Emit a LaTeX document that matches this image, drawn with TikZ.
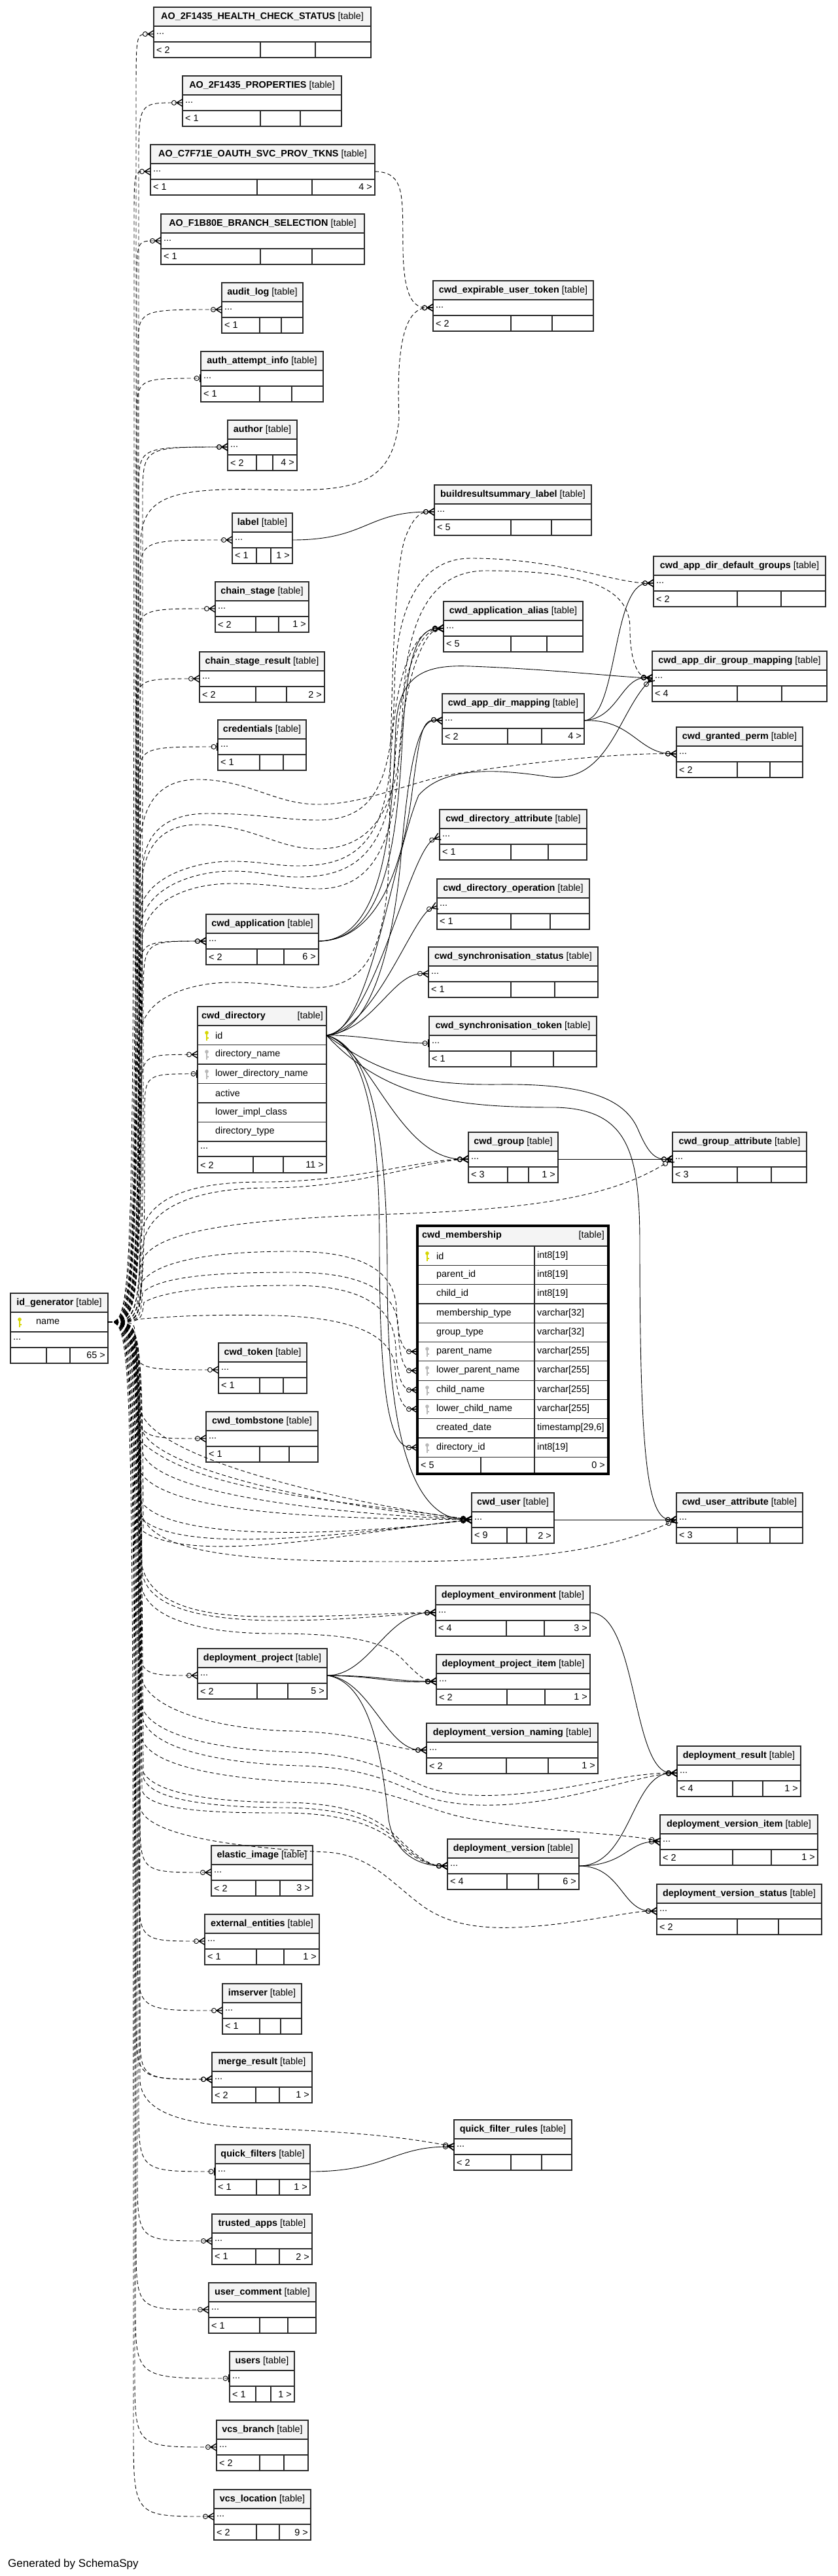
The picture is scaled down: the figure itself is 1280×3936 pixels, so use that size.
\documentclass[tikz,border=0pt]{standalone}
\usepackage{fontspec}
\setmainfont{Liberation Sans}
\usetikzlibrary{arrows.meta}

\definecolor{hdrfill}{HTML}{F4F4F4}
\definecolor{pkyellow}{HTML}{D6D600}
\definecolor{fkgray}{HTML}{B8B8B8}
\definecolor{edge}{HTML}{2B2B2B}

\newcommand{\tabfont}{\fontsize{14.4}{17}\selectfont}

% crow's foot end
\pgfdeclarearrow{
  name = Crow,
  setup code = {
    \pgfarrowssettipend{0pt}
    \pgfarrowssetlineend{-9pt}
    \pgfarrowssetbackend{-9pt}
    \pgfarrowshullpoint{0pt}{5.5pt}
    \pgfarrowshullpoint{0pt}{-5.5pt}
    \pgfarrowshullpoint{-9pt}{0pt}
  },
  drawing code = {
    \pgfsetdash{}{0pt}
    \pgfsetlinewidth{1.4pt}
    \pgfpathmoveto{\pgfqpoint{-9pt}{0pt}}
    \pgfpathlineto{\pgfqpoint{0pt}{5.5pt}}
    \pgfpathmoveto{\pgfqpoint{-9pt}{0pt}}
    \pgfpathlineto{\pgfqpoint{0pt}{0pt}}
    \pgfpathmoveto{\pgfqpoint{-9pt}{0pt}}
    \pgfpathlineto{\pgfqpoint{0pt}{-5.5pt}}
    \pgfusepathqstroke
  }
}

\tikzset{
  tline/.style={draw=edge, line width=1.2pt},
  rowbox/.style={draw=edge, line width=1.2pt, minimum height=24pt, inner sep=0pt, outer sep=0pt, anchor=north west},
  cell/.style={draw=edge, line width=1.2pt, inner sep=0pt, outer sep=0pt, anchor=north west},
  txt/.style={font=\tabfont, inner sep=0pt},
  fk/.style={line width=0.9pt},
  imp/.style={line width=0.9pt, dash pattern=on 6pt off 4pt},
  crowtip/.style={-{Circle[open,length=8pt,width=8pt] Crow}},
  bartip/.style={-{Circle[open,length=8pt,width=8pt] Bar[width=12pt,line width=2.4pt]}},
}

% id, x1, y1, x2, title, divider1, divider2, left count, right count
\newcommand{\tbl}[9]{%
  \draw[tline, fill=hdrfill] (#2,#3) rectangle (#4,#3+29);
  \node[txt] at ({(#2+#4)/2},#3+15) {\textbf{#5} [table]};
  \node[rowbox, minimum width={(#4-#2)*1pt}] (#1) at (#2,#3+29) {};
  \node[txt, anchor=west] at (#2+4,#3+41) {...};
  \draw[tline] (#2,#3+53) rectangle (#4,#3+77) (#6,#3+53) -- (#6,#3+77) (#7,#3+53) -- (#7,#3+77);
  \node[txt, anchor=west] at (#2+4,#3+65) {#8};
  \node[txt, anchor=east] at (#4-4,#3+65) {#9};
}

\newcommand{\keyico}[3]{%
  \fill[#3] (#1,#2-4) circle (2.8pt);
  \draw[#3, line width=1.8pt] (#1,#2-2) -- (#1,#2+8);
  \draw[#3, line width=1.2pt] (#1,#2+4) -- (#1+2.6,#2+4);
}

% implied link from id_generator.name: tip, target, trunk x, turn y
\newcommand{\idlink}[4]{%
  \draw[imp,#1] (ig.east) .. controls (#3,2020) .. (#3,#4) .. controls (#3,0 |- #2) .. (#2);
}

\begin{document}
\begin{tikzpicture}[x=1pt,y=-1pt]
\fill[white] (0,0) rectangle (1280,3936);
\useasboundingbox (0,0) rectangle (1280,3936);

% ---- tables
\tbl{ao1}{235}{11}{567}{AO\_2F1435\_HEALTH\_CHECK\_STATUS}{398}{482}{< 2}{}
\tbl{ao2}{279}{116}{522}{AO\_2F1435\_PROPERTIES}{398}{459}{< 1}{}
\tbl{ao3}{230}{221}{573}{AO\_C7F71E\_OAUTH\_SVC\_PROV\_TKNS}{393}{477}{< 1}{4 >}
\tbl{ao4}{246}{327}{557}{AO\_F1B80E\_BRANCH\_SELECTION}{398}{477}{< 1}{}
\tbl{auditlog}{339}{432}{463}{audit\_log}{397}{430}{< 1}{}
\tbl{authinfo}{307}{537}{494}{auth\_attempt\_info}{397}{446}{< 1}{}
\tbl{author}{348}{642}{454}{author}{392}{417}{< 2}{4 >}
\tbl{expuser}{662}{429}{907}{cwd\_expirable\_user\_token}{781}{844}{< 2}{}
\tbl{brlabel}{664}{741}{904}{buildresultsummary\_label}{781}{843}{< 5}{}
\tbl{lbl}{355}{784}{447}{label}{392}{414}{< 1}{1 >}
\tbl{chainstage}{329}{889}{472}{chain\_stage}{391}{426}{< 2}{1 >}
\tbl{defgroups}{999}{850}{1262}{cwd\_app\_dir\_default\_groups}{1127}{1194}{< 2}{}
\tbl{alias}{678}{919}{891}{cwd\_application\_alias}{781}{836}{< 5}{}
\tbl{chainres}{305}{996}{496}{chain\_stage\_result}{391}{438}{< 2}{2 >}
\tbl{grpmap}{997}{995}{1264}{cwd\_app\_dir\_group\_mapping}{1127}{1195}{< 4}{}
\tbl{dirmap}{676}{1060}{893}{cwd\_app\_dir\_mapping}{776}{828}{< 2}{4 >}
\tbl{credentials}{333}{1100}{468}{credentials}{397}{433}{< 1}{}
\tbl{perm}{1034}{1111}{1227}{cwd\_granted\_perm}{1127}{1177}{< 2}{}
\tbl{dirattr}{672}{1237}{897}{cwd\_directory\_attribute}{781}{838}{< 1}{}
\tbl{dirop}{668}{1343}{901}{cwd\_directory\_operation}{781}{841}{< 1}{}
\tbl{app}{315}{1397}{487}{cwd\_application}{393}{434}{< 2}{6 >}
\tbl{syncstat}{655}{1447}{914}{cwd\_synchronisation\_status}{781}{848}{< 1}{}
\tbl{synctok}{656}{1553}{912}{cwd\_synchronisation\_token}{781}{846}{< 1}{}
\tbl{group}{716}{1730}{853}{cwd\_group}{776}{808}{< 3}{1 >}
\tbl{grpattr}{1028}{1730}{1233}{cwd\_group\_attribute}{1127}{1179}{< 3}{}
\tbl{token}{334}{2052}{469}{cwd\_token}{397}{433}{< 1}{}
\tbl{tomb}{315}{2157}{486}{cwd\_tombstone}{397}{442}{< 1}{}
\tbl{user}{721}{2281}{847}{cwd\_user}{775}{805}{< 9}{2 >}
\tbl{usrattr}{1034}{2281}{1227}{cwd\_user\_attribute}{1127}{1177}{< 3}{}
\tbl{depenv}{666}{2423}{902}{deployment\_environment}{774}{832}{< 4}{3 >}
\tbl{depproj}{302}{2519}{500}{deployment\_project}{393}{440}{< 2}{5 >}
\tbl{depitem}{667}{2528}{902}{deployment\_project\_item}{775}{833}{< 2}{1 >}
\tbl{depnaming}{652}{2633}{914}{deployment\_version\_naming}{774}{838}{< 2}{1 >}
\tbl{depres}{1035}{2668}{1224}{deployment\_result}{1120}{1166}{< 4}{1 >}
\tbl{depvitem}{1009}{2773}{1250}{deployment\_version\_item}{1120}{1179}{< 2}{1 >}
\tbl{depver}{684}{2810}{885}{deployment\_version}{775}{823}{< 4}{6 >}
\tbl{elastic}{323}{2820}{478}{elastic\_image}{391}{428}{< 2}{3 >}
\tbl{depstat}{1004}{2879}{1256}{deployment\_version\_status}{1127}{1190}{< 2}{}
\tbl{extent}{313}{2925}{488}{external\_entities}{392}{434}{< 1}{1 >}
\tbl{imserver}{340}{3031}{461}{imserver}{397}{429}{< 1}{}
\tbl{merge}{324}{3136}{477}{merge\_result}{391}{427}{< 2}{1 >}
\tbl{qfrules}{694}{3239}{874}{quick\_filter\_rules}{781}{828}{< 2}{}
\tbl{qfilters}{329}{3277}{474}{quick\_filters}{392}{427}{< 1}{1 >}
\tbl{trusted}{324}{3383}{477}{trusted\_apps}{391}{427}{< 1}{2 >}
\tbl{ucomment}{319}{3488}{483}{user\_comment}{397}{440}{< 1}{}
\tbl{users}{351}{3593}{450}{users}{391}{414}{< 1}{1 >}
\tbl{vcsbranch}{331}{3698}{471}{vcs\_branch}{397}{434}{< 2}{}
\tbl{vcsloc}{327}{3804}{475}{vcs\_location}{392}{427}{< 2}{9 >}

% cwd_directory (expanded)
\draw[tline, fill=hdrfill] (302,1538) rectangle (499,1567);
\node[txt, anchor=west] at (308,1553) {\textbf{cwd\_directory}};
\node[txt, anchor=east] at (494,1553) {[table]};
\node[cell, minimum width=197pt, minimum height=29.5pt] (dir-id) at (302,1567) {};
\node[cell, minimum width=197pt, minimum height=29.5pt] (dir-name) at (302,1596.5) {};
\node[cell, minimum width=197pt, minimum height=29.5pt] (dir-lname) at (302,1626) {};
\node[cell, minimum width=197pt, minimum height=29.5pt] (dir-active) at (302,1655.5) {};
\node[cell, minimum width=197pt, minimum height=29.5pt] (dir-impl) at (302,1685) {};
\node[cell, minimum width=197pt, minimum height=29.5pt] (dir-type) at (302,1714.5) {};
\node[cell, minimum width=197pt, minimum height=23pt] (dir-more) at (302,1744) {};
\draw[tline] (302,1767) rectangle (499,1792) (387,1767) -- (387,1792) (433,1767) -- (433,1792);
\keyico{316}{1582}{pkyellow}
\keyico{316}{1611}{fkgray}
\keyico{316}{1641}{fkgray}
\node[txt, anchor=west] at (329,1582) {id};
\node[txt, anchor=west] at (329,1611) {directory\_name};
\node[txt, anchor=west] at (329,1641) {lower\_directory\_name};
\node[txt, anchor=west] at (329,1670) {active};
\node[txt, anchor=west] at (329,1700) {lower\_impl\_class};
\node[txt, anchor=west] at (329,1729) {directory\_type};
\node[txt, anchor=west] at (306,1755) {...};
\node[txt, anchor=west] at (306,1780) {< 2};
\node[txt, anchor=east] at (495,1780) {11 >};

% id_generator (expanded)
\draw[tline, fill=hdrfill] (16,1976) rectangle (165,2005);
\node[txt] at (90.5,1991) {\textbf{id\_generator} [table]};
\node[cell, minimum width=149pt, minimum height=30pt] (ig) at (16,2005) {};
\node[cell, minimum width=149pt, minimum height=24pt] (ig-more) at (16,2035) {};
\draw[tline] (16,2059) rectangle (165,2083) (71,2059) -- (71,2083) (107,2059) -- (107,2083);
\keyico{30}{2020}{pkyellow}
\node[txt, anchor=west] at (55,2020) {name};
\node[txt, anchor=west] at (20,2047) {...};
\node[txt, anchor=east] at (161,2071) {65 >};

% cwd_membership (expanded)
\fill[hdrfill] (638,1873) rectangle (930,1904);
\node[cell, minimum width=292pt, minimum height=29.3pt] (mem-id) at (638,1904) {};
\node[cell, minimum width=292pt, minimum height=29.3pt] (mem-pid) at (638,1933.3) {};
\node[cell, minimum width=292pt, minimum height=29.3pt] (mem-cid) at (638,1962.6) {};
\node[cell, minimum width=292pt, minimum height=29.3pt] (mem-mtype) at (638,1991.9) {};
\node[cell, minimum width=292pt, minimum height=29.3pt] (mem-gtype) at (638,2021.2) {};
\node[cell, minimum width=292pt, minimum height=29.3pt] (mem-pname) at (638,2050.5) {};
\node[cell, minimum width=292pt, minimum height=29.3pt] (mem-lpname) at (638,2079.8) {};
\node[cell, minimum width=292pt, minimum height=29.3pt] (mem-cname) at (638,2109.1) {};
\node[cell, minimum width=292pt, minimum height=29.3pt] (mem-lcname) at (638,2138.4) {};
\node[cell, minimum width=292pt, minimum height=29.3pt] (mem-cdate) at (638,2167.7) {};
\node[cell, minimum width=292pt, minimum height=29.3pt] (mem-dirid) at (638,2197) {};
\draw[tline] (817,1904) -- (817,2226.3) (735,2226.3) -- (735,2252) (817,2226.3) -- (817,2252);
\draw[draw=black, line width=3.2pt] (638,1873) rectangle (930,2252);
\node[txt, anchor=west] at (645,1888) {\textbf{cwd\_membership}};
\node[txt, anchor=east] at (924,1888) {[table]};
\keyico{653}{1919}{pkyellow}
\keyico{653}{2065}{fkgray}
\keyico{653}{2094}{fkgray}
\keyico{653}{2124}{fkgray}
\keyico{653}{2153}{fkgray}
\keyico{653}{2212}{fkgray}
\node[txt, anchor=west] at (667,1919) {id};
\node[txt, anchor=west] at (667,1948) {parent\_id};
\node[txt, anchor=west] at (667,1977) {child\_id};
\node[txt, anchor=west] at (667,2007) {membership\_type};
\node[txt, anchor=west] at (667,2036) {group\_type};
\node[txt, anchor=west] at (667,2065) {parent\_name};
\node[txt, anchor=west] at (667,2094) {lower\_parent\_name};
\node[txt, anchor=west] at (667,2124) {child\_name};
\node[txt, anchor=west] at (667,2153) {lower\_child\_name};
\node[txt, anchor=west] at (667,2182) {created\_date};
\node[txt, anchor=west] at (667,2212) {directory\_id};
\node[txt, anchor=west] at (821,1919) {int8[19]};
\node[txt, anchor=west] at (821,1948) {int8[19]};
\node[txt, anchor=west] at (821,1977) {int8[19]};
\node[txt, anchor=west] at (821,2007) {varchar[32]};
\node[txt, anchor=west] at (821,2036) {varchar[32]};
\node[txt, anchor=west] at (821,2065) {varchar[255]};
\node[txt, anchor=west] at (821,2094) {varchar[255]};
\node[txt, anchor=west] at (821,2124) {varchar[255]};
\node[txt, anchor=west] at (821,2153) {varchar[255]};
\node[txt, anchor=west] at (821,2182) {timestamp[29,6]};
\node[txt, anchor=west] at (821,2212) {int8[19]};
\node[txt, anchor=west] at (643,2239) {< 5};
\node[txt, anchor=east] at (925,2239) {0 >};

% ---- real foreign keys
\draw[fk,crowtip] (lbl.east) .. controls (560,825) and (560,782) .. (brlabel.west);
\draw[fk,crowtip] (app.east) .. controls (585,1437) and (605,1300) .. (614,1150) .. controls (620,1030) and (630,960) .. (alias.west);
\draw[fk,crowtip] (app.east) .. controls (575,1437) and (615,1330) .. (630,1210) .. controls (642,1120) and (645,1098) .. (dirmap.west);
\draw[fk,crowtip] (app.east) .. controls (590,1437) and (600,1250) .. (605,1110) .. controls (610,1030) and (650,1015) .. (720,1018) .. controls (850,1023) and (940,1034) .. (grpmap.west);
\draw[fk,crowtip] (dirmap.east) .. controls (945,1098) and (935,891) .. (defgroups.west);
\draw[fk,crowtip] (dirmap.east) .. controls (945,1098) and (950,1034) .. (grpmap.west);
\draw[fk,crowtip] (dirmap.east) .. controls (965,1098) and (975,1150) .. (perm.west);
\draw[fk,crowtip] (dir-id.east) .. controls (565,1582) and (600,1450) .. (612,1320) .. controls (625,1160) and (640,1098) .. (dirmap.west);
\draw[fk,crowtip] (dir-id.east) .. controls (565,1582) and (600,1310) .. (640,1215) .. controls (680,1170) and (760,1175) .. (840,1187) .. controls (930,1197) and (945,1090) .. (grpmap.west);
\draw[fk,crowtip] (dir-id.east) .. controls (570,1575) and (625,1300) .. (dirattr.west);
\draw[fk,crowtip] (dir-id.east) .. controls (575,1570) and (630,1400) .. (dirop.west);
\draw[fk,crowtip] (dir-id.east) .. controls (570,1575) and (600,1486) .. (syncstat.west);
\draw[fk,bartip] (dir-id.east) .. controls (560,1582) and (600,1594) .. (synctok.west);
\draw[fk,crowtip] (dir-id.east) .. controls (565,1600) and (610,1772) .. (group.west);
\draw[fk,crowtip] (dir-id.east) .. controls (580,1640) and (640,1658) .. (760,1657) .. controls (900,1655) and (955,1680) .. (975,1725) .. controls (990,1760) and (1000,1772) .. (grpattr.west);
\draw[fk,crowtip] (dir-id.east) .. controls (590,1680) and (700,1692) .. (850,1692) .. controls (960,1695) and (978,1760) .. (978,1900) .. controls (978,2230) and (990,2322) .. (usrattr.west);
\draw[fk,crowtip] (dir-id.east) .. controls (560,1600) and (580,1720) .. (580,1900) .. controls (580,2160) and (600,2212) .. (mem-dirid.west);
\draw[fk,crowtip] (dir-id.east) .. controls (570,1600) and (592,1740) .. (592,1950) .. controls (592,2220) and (640,2322) .. (user.west);
\draw[fk,crowtip] (group.east) -- (grpattr.west);
\draw[fk,crowtip] (user.east) -- (usrattr.west);
\draw[fk,crowtip] (depproj.east) .. controls (565,2560) and (590,2464) .. (depenv.west);
\draw[fk,crowtip] (depproj.east) .. controls (580,2560) and (600,2569) .. (depitem.west);
\draw[fk,crowtip] (depproj.east) .. controls (590,2562) and (590,2572) .. (depitem.west);
\draw[fk,crowtip] (depproj.east) .. controls (565,2565) and (590,2674) .. (depnaming.west);
\draw[fk,crowtip] (depproj.east) .. controls (570,2570) and (585,2700) .. (594,2780) .. controls (604,2840) and (650,2851) .. (depver.west);
\draw[fk,crowtip] (depenv.east) .. controls (975,2464) and (965,2709) .. (depres.west);
\draw[fk,crowtip] (depver.east) .. controls (965,2851) and (965,2709) .. (depres.west);
\draw[fk,crowtip] (depver.east) .. controls (955,2851) and (960,2814) .. (depvitem.west);
\draw[fk,crowtip] (depver.east) .. controls (950,2851) and (950,2920) .. (depstat.west);
\draw[fk,crowtip] (qfilters.east) .. controls (590,3318) and (600,3280) .. (qfrules.west);

% ---- implied keys
\draw[imp,crowtip] (ao3.east) .. controls (620,263) and (615,300) .. (616,380) .. controls (617,450) and (630,471) .. (expuser.west);
\idlink{crowtip}{ao1.west}{208}{150}
\idlink{crowtip}{ao2.west}{212}{250}
\idlink{crowtip}{ao3.west}{205}{340}
\idlink{crowtip}{ao4.west}{209}{440}
\idlink{crowtip}{auditlog.west}{211}{535}
\idlink{bartip}{authinfo.west}{209}{640}
\idlink{crowtip}{author.west}{212}{750}
\idlink{crowtip}{author.west}{218}{765}
\idlink{crowtip}{lbl.west}{214}{890}
\idlink{crowtip}{chainstage.west}{210}{995}
\idlink{crowtip}{chainres.west}{208}{1100}
\idlink{bartip}{credentials.west}{212}{1205}
\idlink{crowtip}{app.west}{213}{1505}
\idlink{crowtip}{app.west}{219}{1530}
\idlink{crowtip}{dir-name.west}{216}{1680}
\idlink{bartip}{dir-lname.west}{221}{1705}
\idlink{crowtip}{token.west}{206}{2040}
\idlink{crowtip}{tomb.west}{209}{2110}
\idlink{crowtip}{depproj.west}{212}{2480}
\idlink{crowtip}{elastic.west}{214}{2770}
\idlink{crowtip}{extent.west}{212}{2870}
\idlink{crowtip}{imserver.west}{210}{2975}
\idlink{crowtip}{merge.west}{208}{3080}
\idlink{crowtip}{merge.west}{214}{3095}
\idlink{bartip}{qfilters.west}{212}{3215}
\idlink{crowtip}{trusted.west}{210}{3320}
\idlink{crowtip}{ucomment.west}{208}{3420}
\idlink{bartip}{users.west}{207}{3520}
\idlink{crowtip}{vcsbranch.west}{206}{3620}
\idlink{crowtip}{vcsloc.west}{204}{3710}

% long implied routes through the middle corridor
\draw[imp,crowtip] (ig.east) .. controls (214,2020) .. (215,830) .. controls (216,760) and (260,745) .. (400,748) .. controls (540,752) and (600,745) .. (610,640) .. controls (606,540) and (615,471) .. (expuser.west);
\draw[imp,crowtip] (ig.east) .. controls (212,2020) .. (214,1300) .. controls (215,1220) and (250,1191) .. (302,1191) .. controls (380,1191) and (420,1229) .. (486,1229) .. controls (550,1229) and (600,1205) .. (680,1185) .. controls (800,1165) and (950,1150) .. (perm.west);
\draw[imp,crowtip] (ig.east) .. controls (216,2020) .. (218,1330) .. controls (220,1260) and (270,1243) .. (317,1243) .. controls (400,1243) and (430,1253) .. (486,1253) .. controls (570,1253) and (600,1200) .. (603,1050) .. controls (605,930) and (640,853) .. (720,853) .. controls (850,853) and (940,891) .. (defgroups.west);
\draw[imp,crowtip] (ig.east) .. controls (214,2020) .. (216,1360) .. controls (218,1280) and (260,1260) .. (302,1260) .. controls (390,1260) and (420,1297) .. (486,1297) .. controls (560,1297) and (610,1250) .. (615,1100) .. controls (618,960) and (650,872) .. (743,872) .. controls (900,872) and (963,900) .. (963,960) .. controls (963,1010) and (975,1034) .. (grpmap.west);
\draw[imp,crowtip] (ig.east) .. controls (210,2020) .. (213,1400) .. controls (215,1340) and (300,1316) .. (353,1316) .. controls (400,1316) and (420,1323) .. (455,1323) .. controls (530,1323) and (590,1300) .. (598,1150) .. controls (606,1010) and (640,960) .. (alias.west);
\draw[imp,crowtip] (ig.east) .. controls (212,2020) .. (215,1420) .. controls (217,1355) and (300,1331) .. (353,1331) .. controls (400,1331) and (420,1340) .. (455,1340) .. controls (535,1340) and (595,1310) .. (604,1160) .. controls (612,1020) and (645,962) .. (alias.west);
\draw[imp,crowtip] (ig.east) .. controls (215,2020) .. (217,1440) .. controls (219,1370) and (300,1350) .. (353,1350) .. controls (420,1350) and (440,1358) .. (486,1358) .. controls (550,1358) and (600,1320) .. (609,1170) .. controls (617,1030) and (650,964) .. (alias.west);
\draw[imp,crowtip] (ig.east) .. controls (212,2020) .. (215,1580) .. controls (218,1520) and (300,1501) .. (353,1501) .. controls (410,1501) and (440,1509) .. (480,1509) .. controls (560,1509) and (592,1450) .. (595,1300) .. controls (598,1000) and (605,860) .. (620,820) .. controls (630,795) and (640,782) .. (brlabel.west);
% cwd_group, cwd_group_attribute, cwd_membership
\draw[imp,crowtip] (ig.east) .. controls (212,2020) .. (214,1900) .. controls (216,1830) and (290,1806) .. (400,1806) .. controls (540,1806) and (640,1772) .. (group.west);
\draw[imp,crowtip] (ig.east) .. controls (216,2020) .. (218,1910) .. controls (220,1845) and (300,1815) .. (410,1815) .. controls (545,1815) and (645,1775) .. (group.west);
\draw[imp,crowtip] (ig.east) .. controls (214,2020) .. (216,1930) .. controls (230,1875) and (400,1862) .. (600,1855) .. controls (850,1847) and (950,1820) .. (grpattr.west);
\draw[imp,crowtip] (ig.east) .. controls (212,2020) .. (216,1960) .. controls (240,1925) and (330,1912) .. (446,1912) .. controls (560,1912) and (604,1945) .. (606,2000) .. controls (608,2045) and (615,2065) .. (mem-pname.west);
\draw[imp,crowtip] (ig.east) .. controls (214,2020) .. (218,1975) .. controls (245,1950) and (330,1944) .. (446,1944) .. controls (560,1944) and (607,1975) .. (609,2030) .. controls (610,2075) and (618,2094) .. (mem-lpname.west);
\draw[imp,crowtip] (ig.east) .. controls (216,2020) .. (220,1990) .. controls (250,1972) and (330,1964) .. (446,1964) .. controls (560,1964) and (603,2000) .. (605,2060) .. controls (607,2105) and (615,2124) .. (mem-cname.west);
\draw[imp,crowtip] (ig.east) .. controls (260,2010) and (330,2008) .. (420,2010) .. controls (540,2013) and (600,2040) .. (604,2090) .. controls (606,2132) and (615,2153) .. (mem-lcname.west);
% cwd_user and cwd_user_attribute
\draw[imp,crowtip] (ig.east) .. controls (210,2020) .. (214,2150) .. controls (220,2230) and (550,2300) .. (user.west);
\draw[imp,crowtip] (ig.east) .. controls (212,2020) .. (216,2180) .. controls (225,2250) and (560,2310) .. (user.west);
\draw[imp,crowtip] (ig.east) .. controls (214,2020) .. (218,2220) .. controls (240,2290) and (560,2315) .. (user.west);
\draw[imp,crowtip] (ig.east) .. controls (213,2020) .. (215,2250) .. controls (260,2320) and (560,2320) .. (user.west);
\draw[imp,crowtip] (ig.east) .. controls (211,2020) .. (213,2290) .. controls (250,2360) and (540,2345) .. (user.west);
\draw[imp,crowtip] (ig.east) .. controls (214,2020) .. (216,2320) .. controls (280,2380) and (560,2340) .. (user.west);
\draw[imp,crowtip] (ig.east) .. controls (217,2020) .. (219,2340) .. controls (300,2395) and (580,2335) .. (user.west);
\draw[imp,crowtip] (ig.east) .. controls (210,2020) .. (212,2200) .. controls (300,2280) and (500,2290) .. (user.west);
\draw[imp,crowtip] (ig.east) .. controls (212,2020) .. (215,2310) .. controls (230,2370) and (350,2386) .. (600,2386) .. controls (850,2386) and (950,2360) .. (usrattr.west);
% deployment tables
\draw[imp,crowtip] (ig.east) .. controls (212,2020) .. (215,2380) .. controls (220,2440) and (280,2469) .. (400,2470) .. controls (520,2471) and (600,2464) .. (depenv.west);
\draw[imp,crowtip] (ig.east) .. controls (214,2020) .. (217,2400) .. controls (222,2450) and (290,2475) .. (420,2476) .. controls (540,2476) and (610,2466) .. (depenv.west);
\draw[imp,crowtip] (ig.east) .. controls (213,2020) .. (216,2420) .. controls (220,2470) and (300,2496) .. (420,2496) .. controls (540,2496) and (590,2510) .. (615,2535) .. controls (635,2556) and (650,2569) .. (depitem.west);
\draw[imp,crowtip] (ig.east) .. controls (214,2020) .. (216,2560) .. controls (220,2610) and (330,2643) .. (450,2645) .. controls (560,2648) and (600,2674) .. (depnaming.west);
\draw[imp,crowtip] (ig.east) .. controls (212,2020) .. (215,2600) .. controls (220,2650) and (330,2674) .. (450,2677) .. controls (560,2680) and (600,2710) .. (650,2730) .. controls (720,2755) and (820,2740) .. (900,2725) .. controls (970,2712) and (1000,2709) .. (depres.west);
\draw[imp,crowtip] (ig.east) .. controls (214,2020) .. (217,2620) .. controls (222,2672) and (340,2695) .. (460,2698) .. controls (570,2701) and (610,2730) .. (660,2748) .. controls (740,2770) and (840,2752) .. (910,2735) .. controls (975,2718) and (1005,2711) .. (depres.west);
\draw[imp,crowtip] (ig.east) .. controls (212,2020) .. (215,2650) .. controls (220,2700) and (350,2719) .. (480,2724) .. controls (580,2728) and (640,2760) .. (700,2775) .. controls (820,2800) and (950,2800) .. (depvitem.west);
\draw[imp,crowtip] (ig.east) .. controls (212,2020) .. (216,2700) .. controls (225,2745) and (350,2754) .. (441,2754) .. controls (540,2756) and (580,2780) .. (610,2810) .. controls (640,2840) and (660,2851) .. (depver.west);
\draw[imp,crowtip] (ig.east) .. controls (215,2020) .. (219,2715) .. controls (228,2755) and (350,2762) .. (441,2762) .. controls (545,2764) and (585,2790) .. (614,2818) .. controls (642,2844) and (662,2851) .. (depver.west);
\draw[imp,crowtip] (ig.east) .. controls (213,2020) .. (217,2735) .. controls (226,2770) and (350,2770) .. (441,2770) .. controls (550,2772) and (590,2800) .. (618,2826) .. controls (645,2847) and (664,2851) .. (depver.west);
\draw[imp,crowtip] (ig.east) .. controls (212,2020) .. (214,2760) .. controls (220,2810) and (400,2825) .. (500,2830) .. controls (570,2835) and (600,2880) .. (650,2915) .. controls (700,2948) and (760,2950) .. (850,2940) .. controls (930,2930) and (970,2920) .. (depstat.west);
\draw[imp,crowtip] (ig.east) .. controls (212,2020) .. (214,3180) .. controls (218,3235) and (300,3248) .. (400,3252) .. controls (520,3257) and (600,3262) .. (qfrules.west);

\node[font=\fontsize{17}{20}\selectfont, anchor=west, inner sep=0pt] (credit) at (12,3918) {Generated by SchemaSpy};
\end{tikzpicture}
\end{document}
